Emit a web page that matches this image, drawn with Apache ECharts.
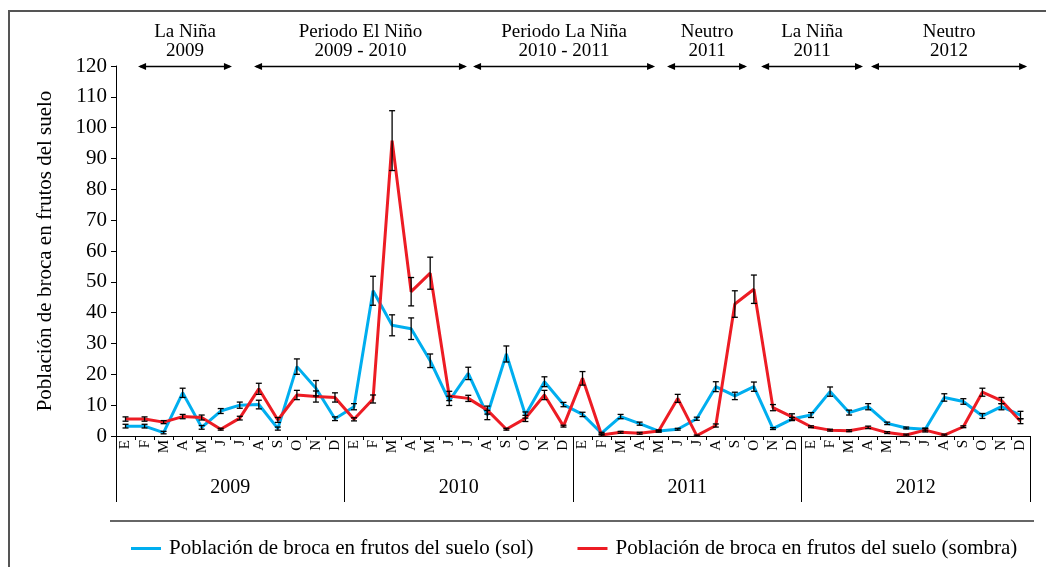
<!DOCTYPE html>
<html>
<head>
<meta charset="utf-8">
<script src="https://cdn.jsdelivr.net/npm/echarts@6/dist/echarts.min.js"></script>
<style>
  html, body { margin: 0; padding: 0; background: #fff; }
  #chart { width: 1046px; height: 567px; }
</style>
</head>
<body>
<div id="chart"></div>
<script>
// Monthly samples, 2009–2012
const years = ['2009', '2010', '2011', '2012'];
const monthLetters = ['E', 'F', 'M', 'A', 'M', 'J', 'J', 'A', 'S', 'O', 'N', 'D'];
const yTicks = [0, 10, 20, 30, 40, 50, 60, 70, 80, 90, 100, 110, 120];

// Population of borer in fallen fruits, sunny plots
const solValues = [
  3.2, 3.2, 1.1, 14.0, 2.8, 8.1, 10.0, 10.2, 2.4, 22.5, 15.5, 5.6,
  9.5, 47.1, 35.9, 34.8, 24.4, 11.4, 20.3, 6.8, 26.6, 6.8, 17.6, 10.2,
  7.0, 0.9, 6.3, 4.0, 1.6, 2.2, 5.6, 16.0, 13.0, 16.0, 2.4, 5.5,
  6.8, 14.4, 7.6, 9.5, 4.1, 2.6, 2.2, 12.5, 11.2, 6.5, 9.5, 6.8
];
const solErrors = [
  0.6, 0.6, 0.4, 1.5, 0.6, 0.8, 1.0, 1.4, 0.5, 2.5, 2.5, 0.6,
  1.0, 4.7, 3.4, 3.5, 2.2, 1.5, 2.0, 1.5, 2.6, 1.0, 1.6, 0.7,
  0.7, 0.3, 0.7, 0.5, 0.3, 0.3, 0.5, 1.6, 1.2, 1.5, 0.3, 0.5,
  0.8, 1.5, 0.8, 1.0, 0.4, 0.3, 0.3, 1.2, 0.9, 0.8, 1.0, 1.2
];

// Population of borer in fallen fruits, shaded plots
const sombraValues = [
  5.5, 5.5, 4.5, 6.3, 6.0, 2.2, 5.8, 15.3, 5.2, 13.3, 12.8, 12.5,
  5.4, 12.0, 95.8, 46.8, 52.8, 13.0, 12.2, 8.4, 2.2, 5.7, 13.3, 3.2,
  18.7, 0.3, 1.2, 0.9, 1.6, 12.2, 0.1, 3.4, 42.8, 47.6, 9.2, 6.2,
  3.0, 1.9, 1.7, 2.8, 1.1, 0.3, 1.9, 0.3, 3.0, 14.2, 11.5, 4.8
];
const sombraErrors = [
  0.7, 0.7, 0.5, 0.7, 0.8, 0.3, 0.6, 1.8, 0.8, 1.5, 1.8, 1.5,
  0.5, 1.3, 9.7, 4.6, 5.2, 1.5, 1.0, 1.3, 0.3, 1.0, 1.5, 0.3,
  2.2, 0.3, 0.3, 0.3, 0.3, 1.3, 0.2, 0.5, 4.3, 4.6, 1.0, 1.0,
  0.3, 0.3, 0.3, 0.4, 0.3, 0.3, 0.6, 0.3, 0.3, 1.3, 1.0, 0.8
];

// ENSO periods: label lines, start and end in month units from the axis start
const periodLabels = [
  'La Niña\n2009',
  'Periodo El Niño\n2009 - 2010',
  'Periodo La Niña\n2010 - 2011',
  'Neutro\n2011',
  'La Niña\n2011',
  'Neutro\n2012'
];
const periodStart = [1.16, 7.25, 18.75, 28.94, 33.88, 39.65];
const periodEnd = [6.09, 18.43, 28.31, 33.14, 39.23, 47.85];

const seriesNames = [
  'Población de broca en frutos del suelo (sol)',
  'Población de broca en frutos del suelo (sombra)'
];

const FONT = '"Liberation Serif", "Times New Roman", serif';
const BLUE = '#00AEEF';
const RED = '#ED1C24';

const categories = [];
years.forEach(y => monthLetters.forEach((m, i) => categories.push(y + '-' + i + '-' + m)));

function errorData(values, errors) {
  return values.map((v, i) => [i, v - errors[i], v + errors[i]]);
}

function renderErrorBar(params, api) {
  const lo = api.coord([api.value(0), api.value(1)]);
  const hi = api.coord([api.value(0), api.value(2)]);
  const half = 3;
  const style = { stroke: '#000', lineWidth: 1.3 };
  return {
    type: 'group',
    children: [
      { type: 'line', shape: { x1: lo[0], y1: lo[1], x2: hi[0], y2: hi[1] }, style },
      { type: 'line', shape: { x1: lo[0] - half, y1: lo[1], x2: lo[0] + half, y2: lo[1] }, style },
      { type: 'line', shape: { x1: hi[0] - half, y1: hi[1], x2: hi[0] + half, y2: hi[1] }, style }
    ]
  };
}

const chart = echarts.init(document.getElementById('chart'), null, { renderer: 'canvas' });

const option = {
  backgroundColor: '#fff',
  animation: false,
  textStyle: { fontFamily: FONT, color: '#000' },
  grid: { left: 116, right: 16, top: 66, bottom: 131, containLabel: false },
  legend: {
    left: 126,
    top: 533,
    itemWidth: 30,
    itemHeight: 3,
    itemGap: 44,
    icon: 'rect',
    textStyle: { fontFamily: FONT, fontSize: 21, color: '#000', padding: [0, 0, 0, 3] },
    data: [
      { name: seriesNames[0], itemStyle: { color: BLUE } },
      { name: seriesNames[1], itemStyle: { color: RED } }
    ]
  },
  xAxis: [
    {
      type: 'category',
      data: categories,
      boundaryGap: true,
      axisLine: { show: true, lineStyle: { color: '#000', width: 1 } },
      axisTick: { show: true, interval: 0, length: 4, lineStyle: { color: '#000' } },
      axisLabel: {
        interval: 0,
        rotate: 90,
        margin: 4,
        fontFamily: FONT,
        fontSize: 15,
        color: '#000',
        formatter: v => v.split('-')[2]
      }
    },
    {
      type: 'category',
      data: years,
      position: 'bottom',
      boundaryGap: true,
      axisLine: { show: false },
      axisTick: { show: true, interval: 0, length: 66, lineStyle: { color: '#000', width: 1 } },
      axisLabel: { interval: 0, margin: 42, fontFamily: FONT, fontSize: 20, color: '#000' }
    }
  ],
  yAxis: {
    type: 'value',
    min: yTicks[0],
    max: yTicks[yTicks.length - 1],
    interval: yTicks[1] - yTicks[0],
    name: 'Población de broca en frutos del suelo',
    nameLocation: 'middle',
    nameRotate: 90,
    nameGap: 60,
    nameTextStyle: { fontFamily: FONT, fontSize: 21, color: '#000' },
    axisLine: { show: true, lineStyle: { color: '#000', width: 1 } },
    axisTick: { show: true, length: 5, lineStyle: { color: '#000' } },
    splitLine: { show: false },
    axisLabel: { margin: 9, fontFamily: FONT, fontSize: 21, color: '#000' }
  },
  series: [
    {
      name: seriesNames[0],
      type: 'line',
      data: solValues,
      symbol: 'none',
      lineStyle: { color: BLUE, width: 3 },
      itemStyle: { color: BLUE },
      z: 3
    },
    {
      name: seriesNames[1],
      type: 'line',
      data: sombraValues,
      symbol: 'none',
      lineStyle: { color: RED, width: 3 },
      itemStyle: { color: RED },
      z: 4
    },
    {
      type: 'custom',
      name: 'err-sol',
      data: errorData(solValues, solErrors),
      renderItem: renderErrorBar,
      encode: { x: 0, y: [1, 2] },
      z: 6,
      silent: true
    },
    {
      type: 'custom',
      name: 'err-sombra',
      data: errorData(sombraValues, sombraErrors),
      renderItem: renderErrorBar,
      encode: { x: 0, y: [1, 2] },
      z: 6,
      silent: true
    }
  ]
};

chart.setOption(option);

// Frame, legend rule and ENSO period arrows on top
const x0 = chart.convertToPixel({ xAxisIndex: 0 }, 0);
const step = chart.convertToPixel({ xAxisIndex: 0 }, 1) - x0;
const axisLeft = x0 - step / 2;
const monthX = pos => axisLeft + pos * step;
const arrowY = 66.5;
const head = 8;

const graphics = [
  {
    type: 'rect',
    shape: { x: 9, y: 11, width: 1100, height: 600 },
    style: { fill: 'none', stroke: '#555', lineWidth: 2 },
    silent: true
  },
  {
    type: 'line',
    shape: { x1: 110, y1: 521, x2: 1034, y2: 521 },
    style: { stroke: '#333', lineWidth: 1.5 },
    silent: true
  }
];

periodLabels.forEach((label, i) => {
  const xs = monthX(periodStart[i]);
  const xe = monthX(periodEnd[i]);
  graphics.push({
    type: 'line',
    shape: { x1: xs + 2, y1: arrowY, x2: xe - 2, y2: arrowY },
    style: { stroke: '#000', lineWidth: 1.5 },
    silent: true
  });
  graphics.push({
    type: 'polygon',
    shape: { points: [[xs, arrowY], [xs + head, arrowY - 3.5], [xs + head, arrowY + 3.5]] },
    style: { fill: '#000' },
    silent: true
  });
  graphics.push({
    type: 'polygon',
    shape: { points: [[xe, arrowY], [xe - head, arrowY - 3.5], [xe - head, arrowY + 3.5]] },
    style: { fill: '#000' },
    silent: true
  });
  graphics.push({
    type: 'text',
    x: (xs + xe) / 2,
    y: 23,
    style: {
      text: label,
      fontFamily: FONT,
      fontSize: 19,
      lineHeight: 19,
      fill: '#000',
      align: 'center',
      verticalAlign: 'top'
    },
    silent: true
  });
});

chart.setOption({ graphic: graphics });
</script>
</body>
</html>
